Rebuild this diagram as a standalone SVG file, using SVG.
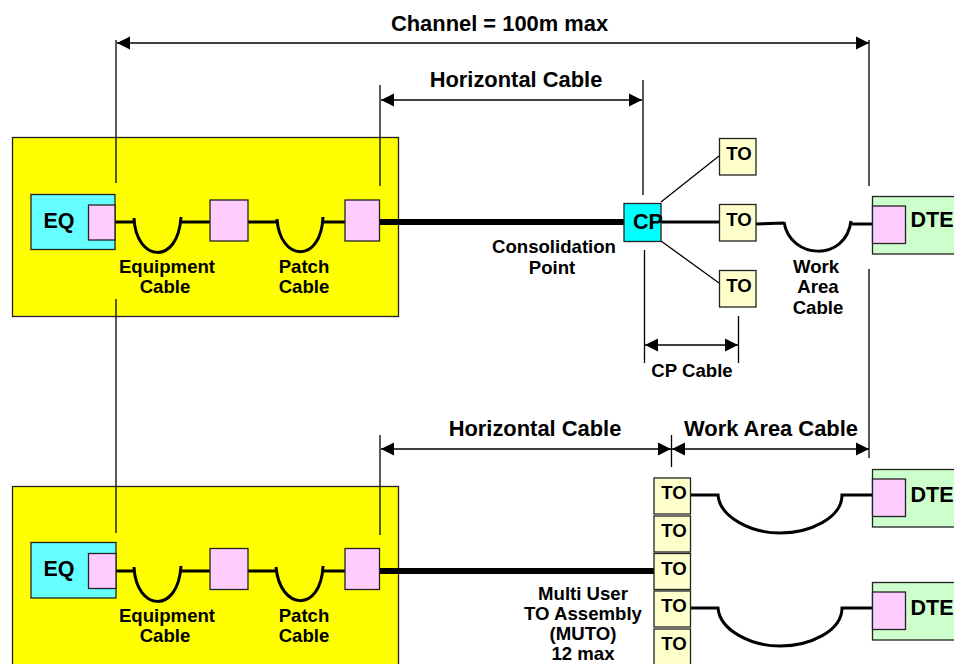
<svg xmlns="http://www.w3.org/2000/svg" width="954" height="664" viewBox="0 0 954 664">
<style>
text{font-family:"Liberation Sans",Arial,sans-serif;font-weight:bold;fill:#000;text-anchor:middle}
.s{font-size:18.600px}.m{font-size:21.500px}.l{font-size:21.900px}
.box{stroke:#222;stroke-width:1.3}
.y{fill:#ffff00}.c{fill:#66ffff}.c2{fill:#00ffff}.p{fill:#ffccff}.t{fill:#ffffcc}.g{fill:#ccffcc}
.dim{fill:none;stroke:#000;stroke-width:1.3}
.cab{fill:none;stroke:#000;stroke-width:3}
.thick{fill:none;stroke:#000;stroke-width:6}
.thin{fill:none;stroke:#000;stroke-width:1.3}
</style>
<defs>
<marker id="a" markerUnits="userSpaceOnUse" markerWidth="14" markerHeight="14" refX="13" refY="7" orient="auto-start-reverse"><path d="M0,0.5L13,7L0,13.5z" fill="#000"/></marker>
</defs>
<g id="room1"><rect class="box y" x="12.500" y="137.500" width="386" height="179"/></g>
<g id="room2"><rect class="box y" x="12.500" y="486.500" width="386" height="190"/></g>
<g id="connectors">
<path class="dim" d="M116 40V183M116 299V533M380 85V186M380 435V535M643 80V195M644.500 250V363M738.500 316V363M869 40V186M869 269V458M671.500 435V467"/>
<path class="dim" marker-start="url(#a)" marker-end="url(#a)" d="M117 43H869"/>
<path class="dim" marker-start="url(#a)" marker-end="url(#a)" d="M381 100H642"/>
<path class="dim" marker-start="url(#a)" marker-end="url(#a)" d="M645 345H738"/>
<path class="dim" marker-start="url(#a)" marker-end="url(#a)" d="M381 449H671"/>
<path class="dim" marker-start="url(#a)" marker-end="url(#a)" d="M672 449H869"/>
<path class="cab" d="M115 222H135M134 218C136 262 178 266 181 217M181 222H210M247 222H277M277 219C280 262 321 264 323 217M323 222H345"/>
<path class="thick" d="M379 222H624"/>
<path class="cab" d="M661 222H720M756 224L784 223M784 222C790 260 846 262 851 221M852 224H873"/>
<path class="thin" d="M661 202L719 156M661 241L719 283"/>
<path class="cab" d="M115 571H135M134 567C136 611 178 615 181 566M181 571H210M247 571H277M276 567C280 611 321 613 323 566M323 571H345"/>
<path class="thick" d="M379 571H654"/>
<path class="cab" d="M691 495H718C720 518 752 533 780 533C810 533 842 518 842 495H873"/>
<path class="cab" d="M691 608H718C720 631 752 646 780 646C810 646 842 631 842 608H873"/>
</g>
<g id="eq1"><rect class="box c" x="31" y="194.500" width="84" height="55"/><rect class="box p" x="88.500" y="205" width="26.500" height="35"/><text class="m" x="59" y="228">EQ</text></g>
<g id="pp1"><rect class="box p" x="210" y="200" width="38" height="41"/></g>
<g id="pp2"><rect class="box p" x="345" y="200" width="34.500" height="41"/></g>
<g id="eq2"><rect class="box c" x="31" y="542.500" width="85" height="55.500"/><rect class="box p" x="88.500" y="553.500" width="27.500" height="35"/><text class="m" x="59" y="576">EQ</text></g>
<g id="pp3"><rect class="box p" x="210" y="548.500" width="38" height="41"/></g>
<g id="pp4"><rect class="box p" x="345" y="548.500" width="34.500" height="41"/></g>
<g id="cp"><rect class="box c2" x="624" y="203.500" width="37" height="38"/><text class="m" x="648" y="229">CP</text></g>
<g id="to1"><rect class="box t" x="719.500" y="138.500" width="36.500" height="36.500"/><text class="s" x="739" y="160">TO</text></g>
<g id="to2"><rect class="box t" x="719.500" y="204.500" width="36.500" height="36.500"/><text class="s" x="739" y="226">TO</text></g>
<g id="to3"><rect class="box t" x="719.500" y="270.500" width="36.500" height="36.500"/><text class="s" x="739" y="292">TO</text></g>
<g id="dte1"><rect class="box g" x="872.500" y="196.500" width="90" height="57.500"/><rect class="box p" x="872.500" y="206" width="33" height="37.500"/><text class="m" x="932" y="227">DTE</text></g>
<g id="dte2"><rect class="box g" x="872.500" y="469.500" width="90" height="57.500"/><rect class="box p" x="872.500" y="479" width="33" height="37.500"/><text class="m" x="932" y="502">DTE</text></g>
<g id="dte3"><rect class="box g" x="872.500" y="582.500" width="90" height="57.500"/><rect class="box p" x="872.500" y="592" width="33" height="37.500"/><text class="m" x="932" y="615">DTE</text></g>
<g id="muto1"><rect class="box t" x="654" y="478" width="36.500" height="36"/><text class="s" x="674" y="499">TO</text></g>
<g id="muto2"><rect class="box t" x="654" y="516" width="36.500" height="36"/><text class="s" x="674" y="537">TO</text></g>
<g id="muto3"><rect class="box t" x="654" y="553.500" width="36.500" height="36"/><text class="s" x="674" y="575">TO</text></g>
<g id="muto4"><rect class="box t" x="654" y="591" width="36.500" height="36"/><text class="s" x="674" y="612">TO</text></g>
<g id="muto5"><rect class="box t" x="654" y="629" width="36.500" height="36"/><text class="s" x="674" y="650">TO</text></g>
<g id="labels">
<text class="l" x="499.500" y="31">Channel = 100m max</text>
<text class="l" x="516" y="87">Horizontal Cable</text>
<text class="l" x="535" y="436">Horizontal Cable</text>
<text class="l" x="771" y="436">Work Area Cable</text>
<text class="s" x="167" y="273">Equipment</text><text class="s" x="165" y="293">Cable</text>
<text class="s" x="304" y="273">Patch</text><text class="s" x="304" y="293">Cable</text>
<text class="s" x="554" y="253">Consolidation</text><text class="s" x="552" y="274">Point</text>
<text class="s" x="816" y="273">Work</text><text class="s" x="818" y="293">Area</text><text class="s" x="818" y="314">Cable</text>
<text class="s" x="692" y="377">CP Cable</text>
<text class="s" x="167" y="622">Equipment</text><text class="s" x="165" y="642">Cable</text>
<text class="s" x="304" y="622">Patch</text><text class="s" x="304" y="642">Cable</text>
<text class="s" x="583" y="600">Multi User</text><text class="s" x="583" y="620">TO Assembly</text><text class="s" x="583" y="640">(MUTO)</text><text class="s" x="583" y="660">12 max</text>
</g>
</svg>
